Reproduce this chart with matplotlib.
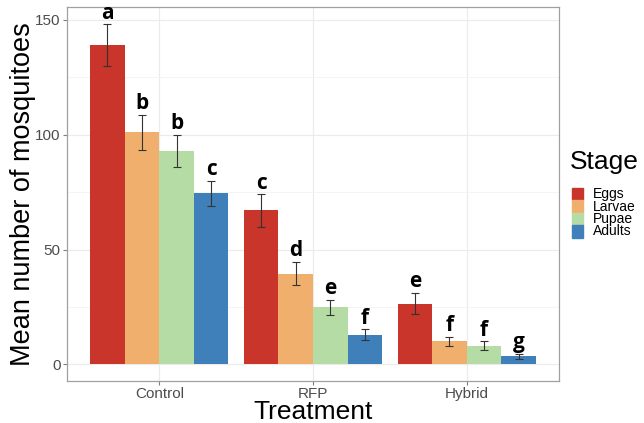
"""Mean number of mosquitoes per treatment and life stage (grouped bar chart)."""
import matplotlib
matplotlib.use('Agg')
import matplotlib.pyplot as plt
import numpy as np
from matplotlib.patches import Rectangle

treatments = ['Control', 'RFP', 'Hybrid']
stages = ['Eggs', 'Larvae', 'Pupae', 'Adults']
colors = ['#C9342B', '#F1AF6D', '#B5DCA5', '#3F80BA']

# rows = stages, columns = treatments
means = [
    [139.0, 67.0, 26.5],
    [101.0, 39.5, 10.0],
    [93.0, 24.8, 8.2],
    [74.5, 13.0, 3.5],
]
errors = [
    [9.0, 7.0, 4.5],
    [7.5, 5.0, 2.0],
    [7.0, 3.3, 1.8],
    [5.5, 2.3, 1.0],
]
letters = [
    ['a', 'c', 'e'],
    ['b', 'd', 'f'],
    ['b', 'e', 'f'],
    ['c', 'f', 'g'],
]

plt.rcParams['font.family'] = ['Liberation Sans', 'DejaVu Sans']

fig = plt.figure(figsize=(6.44, 4.23), dpi=100)
ax = fig.add_axes([67 / 644, 1 - 381 / 423, (559 - 67) / 644, (381 - 7) / 423])

x = np.arange(1, len(treatments) + 1)
width = 0.9 / len(stages)
for i, stage in enumerate(stages):
    pos = x - 0.45 + width * (i + 0.5)
    ax.bar(pos, means[i], width=width, color=colors[i], zorder=2)
    ax.errorbar(pos, means[i], yerr=errors[i], fmt='none', ecolor='#333333',
                elinewidth=0.8, capsize=3, capthick=0.8, zorder=3)
    for px, m, e, lab in zip(pos, means[i], errors[i], letters[i]):
        ax.text(px, m + e + 0.3, lab, ha='center', va='bottom', fontsize=15,
                fontweight='bold', family=['Open Sans', 'DejaVu Sans'], zorder=4)

ax.set_xlim(0.4, 3.6)
ax.set_ylim(-7.2, 155.5)
ax.set_xticks(x)
ax.set_xticklabels(treatments)
ax.set_yticks([0, 50, 100, 150])
ax.set_yticks([25, 75, 125], minor=True)
ax.grid(which='major', color='#EBEBEB', linewidth=0.8, zorder=0)
ax.grid(which='minor', axis='y', color='#F3F3F3', linewidth=0.6, zorder=0)
ax.tick_params(which='major', colors='#7F7F7F', labelcolor='#4D4D4D', labelsize=11,
               length=3, width=0.8, pad=1.5)
ax.tick_params(which='minor', length=0)
for sp in ax.spines.values():
    sp.set_color('#A0A0A0')
    sp.set_linewidth(0.9)
ax.set_axisbelow(True)

ax.set_xlabel('Treatment', fontsize=19, va='baseline')
ax.xaxis.set_label_coords(0.5, -(419 - 381) / 374)
ax.set_ylabel('Mean number of mosquitoes', fontsize=19.5, va='center')
ax.yaxis.set_label_coords(-(67 - 23) / 492, (381 - 194) / 374)

# legend
fig.text(570 / 644, 1 - 169 / 423, 'Stage', fontsize=19, ha='left', va='baseline')
key_h = 12.4
for i, stage in enumerate(stages):
    top = 188 + key_h * i
    fig.patches.append(Rectangle((572 / 644, 1 - (top + key_h) / 423), 11 / 644, key_h / 423,
                                 transform=fig.transFigure, color=colors[i], figure=fig))
    fig.text(593 / 644, 1 - (top + key_h / 2) / 423, stage, fontsize=10,
             ha='left', va='center')

fig.savefig('out.png', dpi=100)
